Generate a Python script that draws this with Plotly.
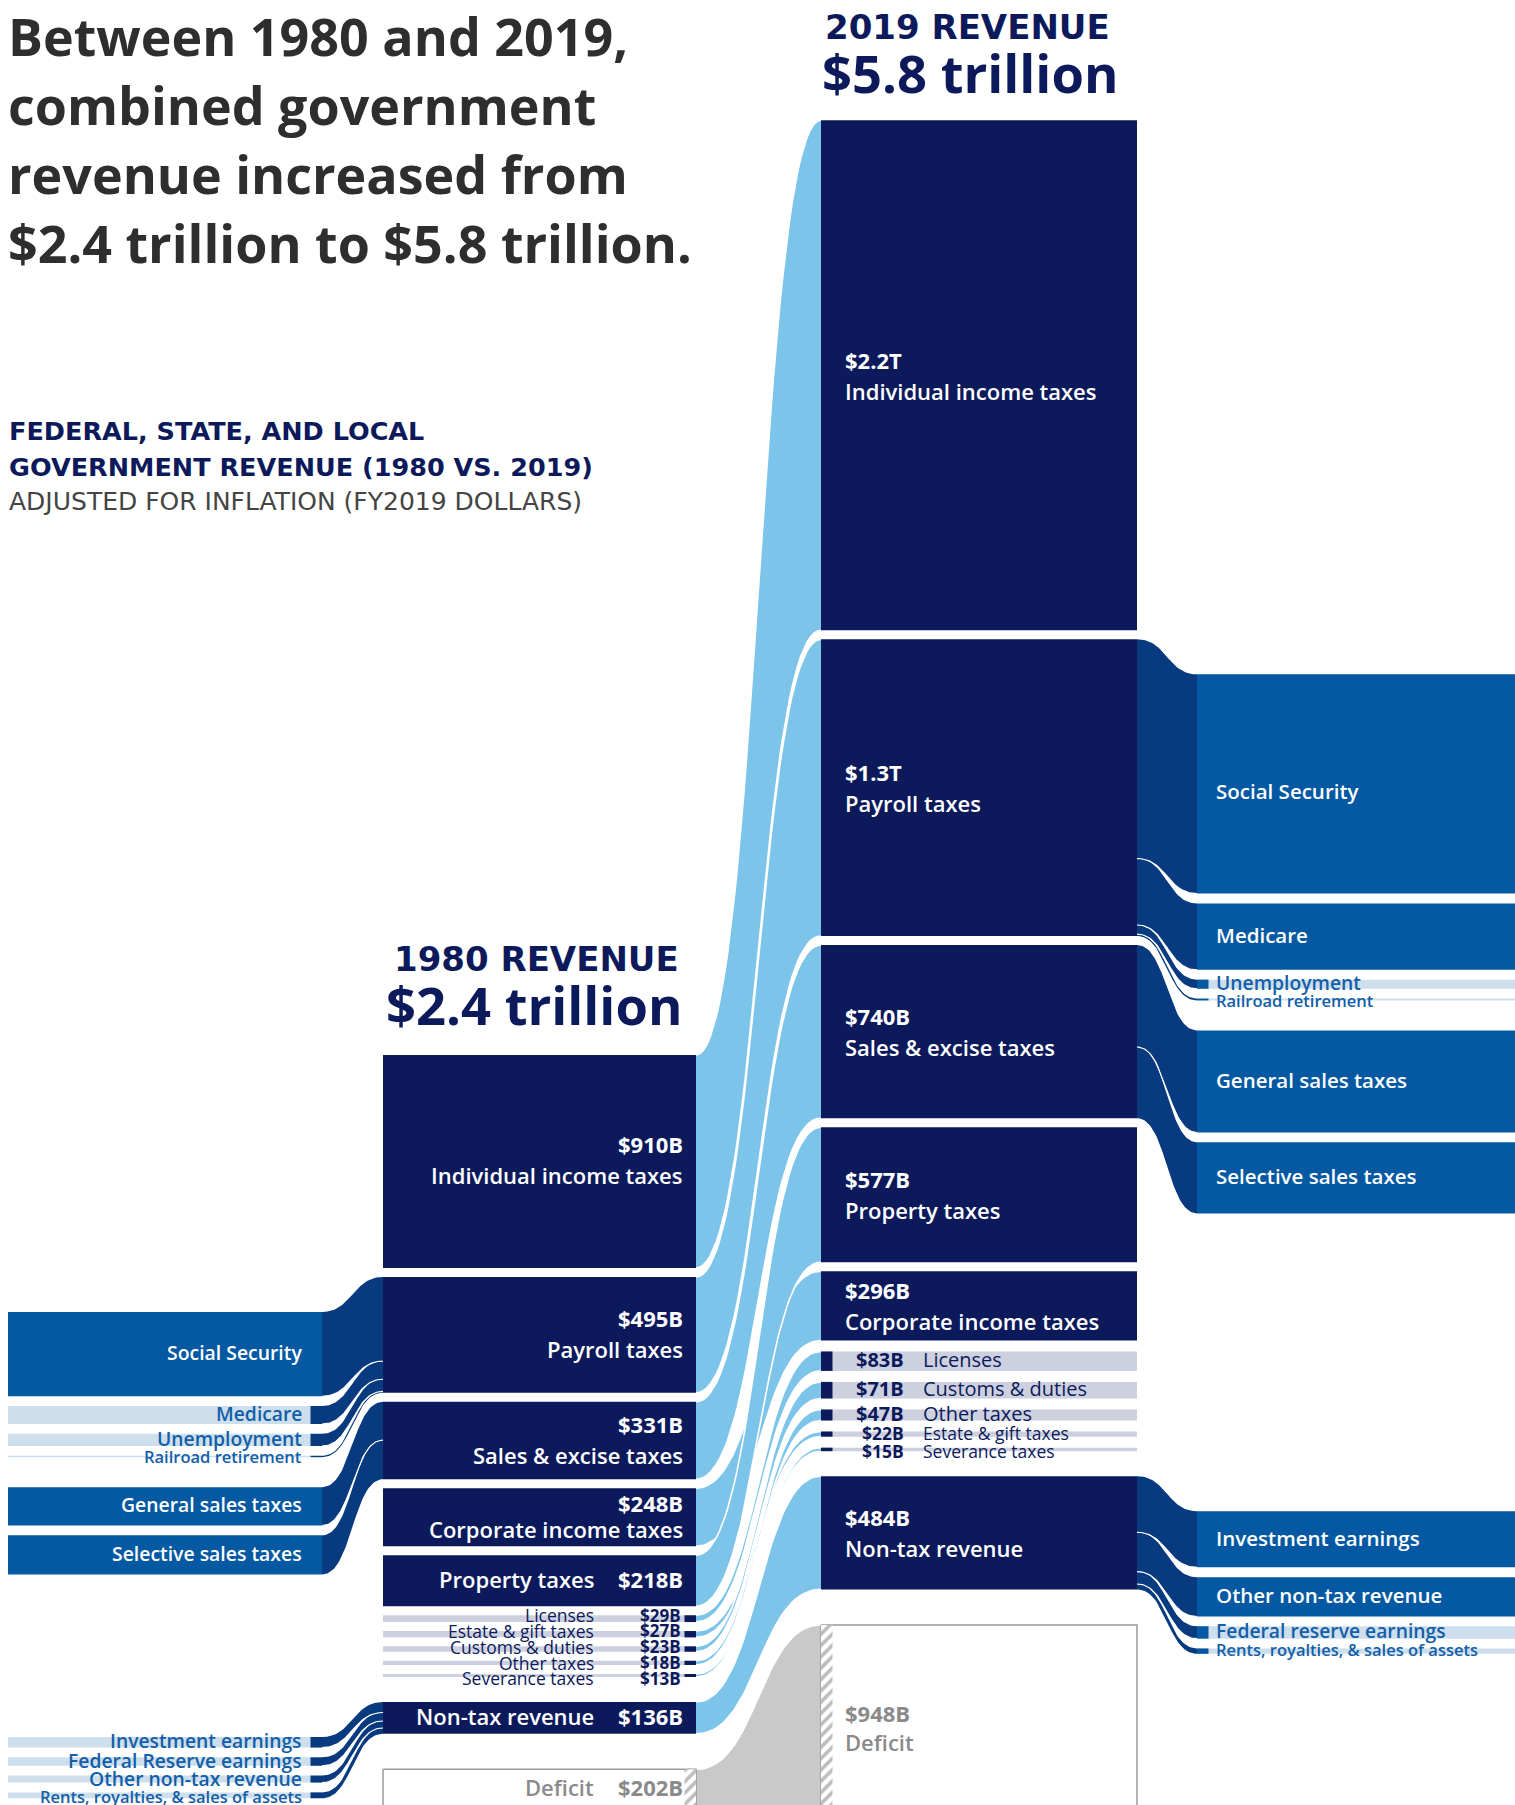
import numpy as np
import plotly.graph_objects as go

# ---------------- DATA (billions of FY2019 dollars) ----------------
categories = ["Individual income taxes", "Payroll taxes", "Sales & excise taxes",
              "Corporate income taxes", "Property taxes", "Licenses", "Estate & gift taxes",
              "Customs & duties", "Other taxes", "Severance taxes", "Non-tax revenue", "Deficit"]
values_1980 = [910, 495, 331, 248, 218, 29, 27, 23, 18, 13, 136, 202]
values_2019 = [2180, 1268, 740, 296, 577, 83, 22, 71, 47, 15, 484, 948]
value_labels_1980 = ["$910B", "$495B", "$331B", "$248B", "$218B", "$29B", "$27B",
                     "$23B", "$18B", "$13B", "$136B", "$202B"]
value_labels_2019 = ["$2.2T", "$1.3T", "$740B", "$296B", "$577B", "$83B", "$22B",
                     "$71B", "$47B", "$15B", "$484B", "$948B"]
order_1980 = ["Individual income taxes", "Payroll taxes", "Sales & excise taxes",
              "Corporate income taxes", "Property taxes", "Licenses", "Estate & gift taxes",
              "Customs & duties", "Other taxes", "Severance taxes", "Non-tax revenue", "Deficit"]
order_2019 = ["Individual income taxes", "Payroll taxes", "Sales & excise taxes",
              "Property taxes", "Corporate income taxes", "Licenses", "Customs & duties",
              "Other taxes", "Estate & gift taxes", "Severance taxes", "Non-tax revenue", "Deficit"]

payroll_parts = ["Social Security", "Medicare", "Unemployment", "Railroad retirement"]
payroll_1980 = [360, 77, 52, 6]
payroll_2019 = [937, 284, 39, 8]
sales_parts = ["General sales taxes", "Selective sales taxes"]
sales_1980 = [164, 167]
sales_2019 = [436, 304]
nontax_parts_1980 = ["Investment earnings", "Federal Reserve earnings", "Other non-tax revenue",
                     "Rents, royalties, & sales of assets"]
nontax_1980 = [45, 36, 30, 25]
nontax_parts_2019 = ["Investment earnings", "Other non-tax revenue", "Federal reserve earnings",
                     "Rents, royalties, & sales of assets"]
nontax_2019 = [240, 168, 53, 23]

title_lines = ["Between 1980 and 2019,", "combined government",
               "revenue increased from", "$2.4 trillion to $5.8 trillion."]
subtitle_lines = ["FEDERAL, STATE, AND LOCAL", "GOVERNMENT REVENUE (1980 VS. 2019)"]
note_line = "ADJUSTED FOR INFLATION (FY2019 DOLLARS)"
head_1980 = ["1980 REVENUE", "$2.4 trillion"]
head_2019 = ["2019 REVENUE", "$5.8 trillion"]

# ---------------- STYLE / LAYOUT ----------------
W, H = 1515, 1805
K = 0.234            # pixels per $1B on the y axis


def u(px):
    """pixel length -> y-axis units ($B)"""
    return px / K


FONT = "Open Sans"
WIDE = "DejaVu Sans"
NAVY = "#0c1a5c"
FLOW = "#7dc4ea"
BAND = "#073a7e"
BRK = "#0459a2"
STRIP = "#cdd0de"
BSTRIP = "#cddeec"
LBLUE = "#135ea8"
GRAYFLOW = "#c9c9c9"
GRAYTXT = "#8a8a8a"
TITLE = "#2e2e2e"
SEMI = 600
TXT_DY = -1.5        # small optical shift of data labels (px)

COL80 = (383, 696)
COL19 = (821, 1137)
BRK80 = (8, 322)
BRK19 = (1197, 1515)
MARK = 11.5
TOP80, TOP19 = 1055, 120.2
GAP = 9
SMALL_GAP = {1980: 9, 2019: 11}
GAP_NONTAX, GAP_DEFICIT = 25, 35.5
BRK_OFFSET, BRK_GAP, BRK_GROUP_GAP = 35, 9.8, 30
SMALL_PX = 25
LBL19_X, LBL80_R, LBL80_NAME_R = 843, 684.5, 596
BRK19_TX, BRK80_TX = 1214, 304
BRK_FONT = {1980: 19.4, 2019: 20.5}
BRK_SMALL_FONT, BRK_TINY_FONT = 19.3, 16.5
LABEL_DY = {(2019, "Social Security"): 9}   # per-label optical nudges (px)

fig = go.Figure()


def poly(xs, ys, color, line_color=None, lw=0, pattern=None):
    kw = dict(x=list(xs), y=list(ys), mode="lines", fill="toself", fillcolor=color,
              line=dict(width=lw, color=line_color or color), hoverinfo="skip",
              showlegend=False)
    if pattern:
        kw["fillpattern"] = pattern
    fig.add_trace(go.Scatter(**kw))


def rect(x0, x1, y0, y1, color, **kw):
    poly([x0, x1, x1, x0, x0], [y0, y0, y1, y1, y0], color, **kw)


def curve_line(xs, ys, color, lw):
    fig.add_trace(go.Scatter(x=list(xs), y=list(ys), mode="lines",
                             line=dict(color=color, width=lw), hoverinfo="skip",
                             showlegend=False))


def bez(x0, y0, x1, y1, n=50):
    t = np.linspace(0, 1, n)
    xm = (x0 + x1) / 2
    bx = (1 - t) ** 3 * x0 + 3 * (1 - t) ** 2 * t * xm + 3 * (1 - t) * t ** 2 * xm + t ** 3 * x1
    by = (1 - t) ** 3 * y0 + 3 * (1 - t) ** 2 * t * y0 + 3 * (1 - t) * t ** 2 * y1 + t ** 3 * y1
    return bx, by


def band(xa, ya0, ya1, xb, yb0, yb1, color):
    tx, ty = bez(xa, ya0, xb, yb0)
    bx, by = bez(xb, yb1, xa, ya1)
    poly(np.r_[tx, bx], np.r_[ty, by], color)
    return (tx, ty), (bx, by)


def text(x, y, s, size, color, xanchor, bold=False, paper=False, weight=None, family=FONT):
    f = dict(family=family, size=size, color=color)
    if weight:
        f["weight"] = weight
    if not paper:
        y = y + u(TXT_DY)
    fig.add_annotation(x=x, y=y, xref="paper" if paper else "x", yref="paper" if paper else "y",
                       text=f"<b>{s}</b>" if bold else s, showarrow=False,
                       xanchor=xanchor, yanchor="middle", font=f)


def relax(centers, pitch):
    """push label centres apart so they keep a minimum pitch (axis units)"""
    out = []
    for c in centers:
        out.append(c if not out else max(c, out[-1] + pitch))
    return out


def is_small(v):
    return v * K < SMALL_PX


def stack_column(order, vals, top_px, small_gap):
    pos, y, first = {}, u(top_px), True
    for name in order:
        v = vals[categories.index(name)]
        if not first:
            if name == "Deficit":
                g = GAP_DEFICIT
            elif name == "Non-tax revenue":
                g = GAP_NONTAX
            elif is_small(v):
                g = small_gap
            else:
                g = GAP
            y += u(g)
        pos[name] = (y, y + v)
        y += v
        first = False
    return pos


def stack_breakouts(groups, pos):
    out, prev_end = [], -1e9
    for parent, names, vals in groups:
        y = max(pos[parent][0] + u(BRK_OFFSET), prev_end + u(BRK_GROUP_GAP))
        items = []
        for i, (n, v) in enumerate(zip(names, vals)):
            if i:
                y += u(BRK_GAP)
            items.append((n, v, y, y + v))
            y += v
        prev_end = y
        out.append((parent, items))
    return out


pos80 = stack_column(order_1980, values_1980, TOP80, SMALL_GAP[1980])
pos19 = stack_column(order_2019, values_2019, TOP19, SMALL_GAP[2019])

# ---------------- flows 1980 -> 2019 ----------------
for name in order_1980:
    a0, a1 = pos80[name]
    b0, b1 = pos19[name]
    col = GRAYFLOW if name == "Deficit" else FLOW
    top, bot = band(COL80[1], a0, a1, COL19[0], b0, b1, col)
    curve_line(*top, "white", 1.6)
    curve_line(*bot, "white", 1.6)


# ---------------- columns ----------------
def draw_column(order, vals, vlabels, pos, col, year):
    x0, x1 = col
    small_names = [n for n in order if n != "Deficit" and is_small(vals[categories.index(n)])]
    sc = [(pos[n][0] + pos[n][1]) / 2 for n in small_names]
    if year == 1980:
        sc = [c - u(2) for c in relax(sc, u(15.8))]
    else:
        sc = relax(sc, u(18))
    small_cy = dict(zip(small_names, sc))
    for name in order:
        i = categories.index(name)
        v = vals[i]
        y0, y1 = pos[name]
        cy = (y0 + y1) / 2
        hpx = v * K
        if name == "Deficit":
            rect(x0, x1, y0, y1, "white", line_color="#9b9b9b", lw=1.5)
            hx = (x1 - MARK, x1) if year == 1980 else (x0, x0 + MARK)
            rect(hx[0], hx[1], y0, y1, "white", line_color="white", lw=0,
                 pattern=dict(shape="/", fgcolor="#7c7c7c", bgcolor="white",
                              size=8, solidity=0.45))
            if year == 1980:
                text(LBL80_NAME_R, cy - u(4), name, 22, GRAYTXT, "right", weight=SEMI)
                text(LBL80_R, cy - u(4), vlabels[i], 22, GRAYTXT, "right", bold=True)
            else:
                text(LBL19_X, cy - u(21.5), vlabels[i], 22, GRAYTXT, "left", bold=True)
                text(LBL19_X, cy + u(7.5), name, 22, GRAYTXT, "left", weight=SEMI)
            continue
        if is_small(v):
            rect(x0, x1, y0, y1, STRIP)
            mx = (x1 - MARK, x1) if year == 1980 else (x0, x0 + MARK)
            rect(mx[0], mx[1], y0, y1, NAVY)
            ty = small_cy[name]
            if year == 1980:
                text(LBL80_NAME_R, ty, name, 17.5, NAVY, "right")
                text(LBL80_R - 2, ty, vlabels[i], 17, NAVY, "right", bold=True)
            else:
                fs = 17.5 if v < 26 else 20
                text(906, ty, vlabels[i], fs, NAVY, "right", bold=True)
                text(921, ty, name, fs, NAVY, "left")
            continue
        rect(x0, x1, y0, y1, NAVY)
        if year == 1980 and hpx < 55:
            text(LBL80_NAME_R, cy, name, 22, "white", "right", weight=SEMI)
            text(LBL80_R, cy, vlabels[i], 22, "white", "right", bold=True)
        else:
            sp = min(31, 0.45 * hpx)
            if year == 1980:
                text(LBL80_R, cy - u(0.5 * sp), vlabels[i], 22, "white", "right", bold=True)
                text(LBL80_R, cy + u(0.5 * sp), name, 22, "white", "right", weight=SEMI)
            else:
                text(LBL19_X, cy - u(0.46 * sp), vlabels[i], 22, "white", "left", bold=True)
                text(LBL19_X, cy + u(0.54 * sp), name, 22, "white", "left", weight=SEMI)


draw_column(order_1980, values_1980, value_labels_1980, pos80, COL80, 1980)
draw_column(order_2019, values_2019, value_labels_2019, pos19, COL19, 2019)

# ---------------- breakouts ----------------
groups80 = stack_breakouts([("Payroll taxes", payroll_parts, payroll_1980),
                            ("Sales & excise taxes", sales_parts, sales_1980),
                            ("Non-tax revenue", nontax_parts_1980, nontax_1980)], pos80)
groups19 = stack_breakouts([("Payroll taxes", payroll_parts, payroll_2019),
                            ("Sales & excise taxes", sales_parts, sales_2019),
                            ("Non-tax revenue", nontax_parts_2019, nontax_2019)], pos19)


def draw_breakouts(groups, pos, year):
    if year == 2019:
        xa, xb = COL19[1], BRK19[0]
        bx0, bx1 = BRK19
        mx = (bx0, bx0 + MARK)
        mcol = BRK
    else:
        xa, xb = COL80[0], BRK80[1]
        bx0, bx1 = BRK80
        mx = (bx1 - MARK, bx1)
        mcol = BAND
    for parent, items in groups:
        yb = pos[parent][0]
        seps = []
        for (n, v, y0, y1) in items:
            top, bot = band(xa, yb, yb + v, xb, y0, y1, BAND)
            seps.append(bot)
            yb += v
        for s in seps[:-1]:
            curve_line(*s, "white", 1.1)
        centers = relax([(y0 + y1) / 2 for (_, _, y0, y1) in items], u(18))
        for (n, v, y0, y1), cy in zip(items, centers):
            cy = cy + u(LABEL_DY.get((year, n), 0))
            if is_small(v):
                rect(bx0, bx1, y0, y1, BSTRIP)
                rect(mx[0], mx[1], y0, y1, mcol)
                fs = BRK_TINY_FONT if v < 26 else BRK_SMALL_FONT
                col = LBLUE
            else:
                rect(bx0, bx1, y0, y1, BRK)
                fs = BRK_FONT[year]
                col = "white"
            if year == 2019:
                text(BRK19_TX, cy, n, fs, col, "left", weight=SEMI)
            else:
                text(BRK80_TX, cy, n, fs, col, "right", weight=SEMI)


draw_breakouts(groups80, pos80, 1980)
draw_breakouts(groups19, pos19, 2019)


# ---------------- headings & titles ----------------
def py(px):
    return 1 - px / H


for i, line in enumerate(title_lines):
    text(6 / W, py(35 + 69.3 * i), line, 52, TITLE, "left", bold=True, paper=True)
text(7 / W, py(430.5), subtitle_lines[0], 25.5, NAVY, "left", bold=True, paper=True, family=WIDE)
text(7 / W, py(466.5), subtitle_lines[1], 25.5, NAVY, "left", bold=True, paper=True, family=WIDE)
text(7 / W, py(501), note_line, 25, "#444444", "left", paper=True, family=WIDE)

text(823 / W, py(27), head_2019[0], 34, NAVY, "left", bold=True, paper=True, family=WIDE)
text(820 / W, py(73), head_2019[1], 52.5, NAVY, "left", bold=True, paper=True)
text(681 / W, py(959), head_1980[0], 34, NAVY, "right", bold=True, paper=True, family=WIDE)
text(684 / W, py(1004), head_1980[1], 52.5, NAVY, "right", bold=True, paper=True)

fig.update_layout(
    width=W, height=H,
    margin=dict(l=0, r=0, t=0, b=0, pad=0),
    paper_bgcolor="white", plot_bgcolor="white",
    showlegend=False,
    xaxis=dict(range=[0, W], visible=False, fixedrange=True),
    yaxis=dict(range=[u(H), 0], visible=False, fixedrange=True),
)

fig.write_html("out.html", config={"displayModeBar": False},
               post_script="document.body.style.margin='0';")
